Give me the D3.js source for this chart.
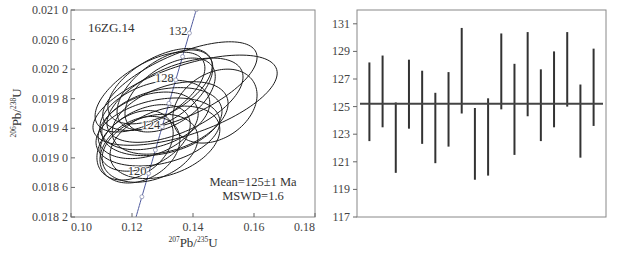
<!DOCTYPE html>
<html>
<head>
<meta charset="utf-8">
<script src="https://cdn.jsdelivr.net/npm/d3@7"></script>
<style>
  body { margin: 0; background: #fff; }
  svg { font-family: "Liberation Serif", "DejaVu Serif", serif; }
</style>
</head>
<body>
<div id="chart"></div>
<script>
/* DATA */
// ellipses: 207Pb/235U, 206Pb/238U with half-extent errors and correlation
const r75 = [0.1292, 0.1308, 0.1259, 0.1325, 0.1374, 0.1357, 0.1341, 0.1472, 0.1275,
             0.1298, 0.1253, 0.1325, 0.1285, 0.1226, 0.1210, 0.1259, 0.1308, 0.1243];
const r75err = [0.0171, 0.0157, 0.0180, 0.0148, 0.0302, 0.0253, 0.0223, 0.0138, 0.0180,
                0.0197, 0.0164, 0.0190, 0.0203, 0.0131, 0.0125, 0.0157, 0.0180, 0.0148];
const r68 = [0.01997, 0.01992, 0.01989, 0.01985, 0.01978, 0.01997, 0.01978, 0.01970, 0.01958,
             0.01949, 0.01944, 0.01954, 0.01935, 0.01911, 0.01917, 0.01913, 0.01921, 0.01927];
const r68err = [0.00051, 0.00054, 0.00054, 0.00050, 0.00061, 0.00060, 0.00057, 0.00050, 0.00047,
                0.00046, 0.00045, 0.00049, 0.00046, 0.00045, 0.00047, 0.00046, 0.00049, 0.00045];
const rho = [0.55, 0.55, 0.60, 0.50, 0.60, 0.65, 0.55, 0.30, 0.35,
             0.30, 0.35, 0.40, 0.30, 0.30, 0.35, 0.30, 0.35, 0.40];

// weighted mean plot: 206Pb/238U ages (Ma)
const ageHigh = [128.2, 128.7, 125.3, 128.4, 127.6, 126.0, 127.5, 130.7, 124.9,
                 125.6, 130.3, 128.1, 130.4, 127.7, 129.0, 130.4, 126.6, 129.2];
const ageLow = [122.5, 123.5, 120.2, 123.4, 122.3, 120.9, 122.1, 124.5, 119.7,
                120.0, 124.8, 121.5, 124.3, 122.5, 123.5, 125.0, 121.3, 123.6];
const meanAge = 125.2;

const xTicks = [0.10, 0.12, 0.14, 0.16, 0.18];
const yTicks = [0.0182, 0.0186, 0.0190, 0.0194, 0.0198, 0.0202, 0.0206, 0.0210];
const ageTicks = [117, 119, 121, 123, 125, 127, 129, 131];
const concMarks = [116, 118, 120, 122, 124, 126, 128, 130, 132, 134];
const concLabels = [120, 124, 128, 132];

const sampleName = "16ZG.14";
const meanText = ["Mean=125\u00b11 Ma", "MSWD=1.6"];

/* SETUP */
const width = 620, height = 255;
const l238 = 1.55125e-4, l235 = 9.8485e-4; // per Ma

const svg = d3.select("#chart").append("svg")
  .attr("width", width).attr("height", height);

const xL = d3.scaleLinear().domain([0.10, 0.18]).range([71, 315]);
const yL = d3.scaleLinear().domain([0.0182, 0.0210]).range([217, 10]);

svg.append("clipPath").attr("id", "clipL")
  .append("rect").attr("x", 71).attr("y", 10).attr("width", 244).attr("height", 207);

const plotL = svg.append("g").attr("clip-path", "url(#clipL)");

// concordia
const conc = d3.range(105, 145.01, 0.25).map(t => [Math.exp(l235 * t) - 1, Math.exp(l238 * t) - 1]);
plotL.append("path")
  .datum(conc)
  .attr("fill", "none")
  .attr("stroke", "#4f5a9e")
  .attr("stroke-width", 1)
  .attr("d", d3.line().x(d => xL(d[0])).y(d => yL(d[1])));

// ellipses
const ell = d3.line().x(d => xL(d[0])).y(d => yL(d[1])).curve(d3.curveLinearClosed);
r75.forEach((x, i) => {
  const pts = d3.range(0, 120).map(k => {
    const a = k / 120 * 2 * Math.PI;
    return [x + r75err[i] * Math.cos(a),
            r68[i] + r68err[i] * (rho[i] * Math.cos(a) + Math.sqrt(1 - rho[i] * rho[i]) * Math.sin(a))];
  });
  plotL.append("path")
    .datum(pts)
    .attr("fill", "none")
    .attr("stroke", "#1a1a1a")
    .attr("stroke-width", 1)
    .attr("d", ell);
});

// concordia age marks
plotL.selectAll("circle.mark")
  .data(concMarks)
  .join("circle")
  .attr("class", "mark")
  .attr("cx", t => xL(Math.exp(l235 * t) - 1))
  .attr("cy", t => yL(Math.exp(l238 * t) - 1))
  .attr("r", 2)
  .attr("fill", "#fff")
  .attr("stroke", "#8a8fb0")
  .attr("stroke-width", 0.8);

plotL.selectAll("text.age")
  .data(concLabels)
  .join("text")
  .attr("class", "age")
  .attr("x", t => xL(Math.exp(l235 * t) - 1) - 2)
  .attr("y", t => yL(Math.exp(l238 * t) - 1) + 2)
  .attr("text-anchor", "end")
  .attr("font-size", 12.5)
  .attr("fill", "#333")
  .attr("stroke", "#fff").attr("stroke-width", 1.5).attr("paint-order", "stroke")
  .text(t => t);

// frame
svg.append("rect")
  .attr("x", 71).attr("y", 10).attr("width", 244).attr("height", 207)
  .attr("fill", "none").attr("stroke", "#888").attr("stroke-width", 1);

// ticks left axis (inward)
svg.selectAll("line.yt")
  .data(yTicks)
  .join("line")
  .attr("x1", 71).attr("x2", 75)
  .attr("y1", d => yL(d)).attr("y2", d => yL(d))
  .attr("stroke", "#666");

svg.selectAll("text.yt")
  .data(yTicks)
  .join("text")
  .attr("class", "yt")
  .attr("x", 68)
  .attr("y", d => yL(d) + 4)
  .attr("text-anchor", "end")
  .attr("font-size", 12)
  .attr("fill", "#444")
  .text(d => { const s = d3.format(".4f")(d); return s.slice(0, 5) + " " + s.slice(5); });

svg.selectAll("line.xt")
  .data(xTicks)
  .join("line")
  .attr("x1", d => xL(d)).attr("x2", d => xL(d))
  .attr("y1", 217).attr("y2", 213)
  .attr("stroke", "#666");

svg.selectAll("text.xt")
  .data(xTicks)
  .join("text")
  .attr("class", "xt")
  .attr("x", d => xL(d))
  .attr("y", 231)
  .attr("text-anchor", (d, i) => i === 0 ? "start" : i === xTicks.length - 1 ? "end" : "middle")
  .attr("font-size", 12)
  .attr("fill", "#444")
  .text(d => d3.format(".2f")(d));

// axis titles
const xTitle = svg.append("text")
  .attr("x", 193).attr("y", 247)
  .attr("text-anchor", "middle")
  .attr("font-size", 13)
  .attr("fill", "#333");
xTitle.append("tspan").attr("font-size", 7.5).attr("dy", -5).text("207");
xTitle.append("tspan").attr("dy", 5).text("Pb/");
xTitle.append("tspan").attr("font-size", 7.5).attr("dy", -5).text("235");
xTitle.append("tspan").attr("dy", 5).text("U");

const yTitle = svg.append("text")
  .attr("transform", "translate(21,113) rotate(-90)")
  .attr("text-anchor", "middle")
  .attr("font-size", 13)
  .attr("fill", "#333");
yTitle.append("tspan").attr("font-size", 7.5).attr("dy", -5).text("206");
yTitle.append("tspan").attr("dy", 5).text("Pb/");
yTitle.append("tspan").attr("font-size", 7.5).attr("dy", -5).text("238");
yTitle.append("tspan").attr("dy", 5).text("U");

svg.append("text")
  .attr("x", 88).attr("y", 32)
  .attr("font-size", 13)
  .attr("fill", "#333")
  .text(sampleName);

svg.selectAll("text.mean")
  .data(meanText)
  .join("text")
  .attr("class", "mean")
  .attr("x", 253)
  .attr("y", (d, i) => 186 + i * 13.5)
  .attr("text-anchor", "middle")
  .attr("font-size", 12.5)
  .attr("fill", "#333")
  .text(d => d);

/* RIGHT: weighted mean plot */
const xR = d3.scalePoint().domain(d3.range(1, ageHigh.length + 1)).range([357, 606]).padding(0.94);
const yR = d3.scaleLinear().domain([117, 132]).range([217, 10]);

svg.append("rect")
  .attr("x", 357).attr("y", 10).attr("width", 249).attr("height", 207)
  .attr("fill", "none").attr("stroke", "#888").attr("stroke-width", 1);

svg.selectAll("line.yr")
  .data(ageTicks)
  .join("line")
  .attr("x1", 353).attr("x2", 357)
  .attr("y1", d => yR(d)).attr("y2", d => yR(d))
  .attr("stroke", "#666");

svg.selectAll("text.yr")
  .data(ageTicks)
  .join("text")
  .attr("class", "yr")
  .attr("x", 350)
  .attr("y", d => yR(d) + 4)
  .attr("text-anchor", "end")
  .attr("font-size", 12)
  .attr("fill", "#444")
  .text(d => d);

svg.selectAll("line.bar")
  .data(ageHigh)
  .join("line")
  .attr("class", "bar")
  .attr("x1", (d, i) => xR(i + 1)).attr("x2", (d, i) => xR(i + 1))
  .attr("y1", d => yR(d))
  .attr("y2", (d, i) => yR(ageLow[i]))
  .attr("stroke", "#333")
  .attr("stroke-width", 2);

svg.append("line")
  .attr("x1", 360).attr("x2", 603)
  .attr("y1", yR(meanAge)).attr("y2", yR(meanAge))
  .attr("stroke", "#444")
  .attr("stroke-width", 2);
</script>
</body>
</html>
